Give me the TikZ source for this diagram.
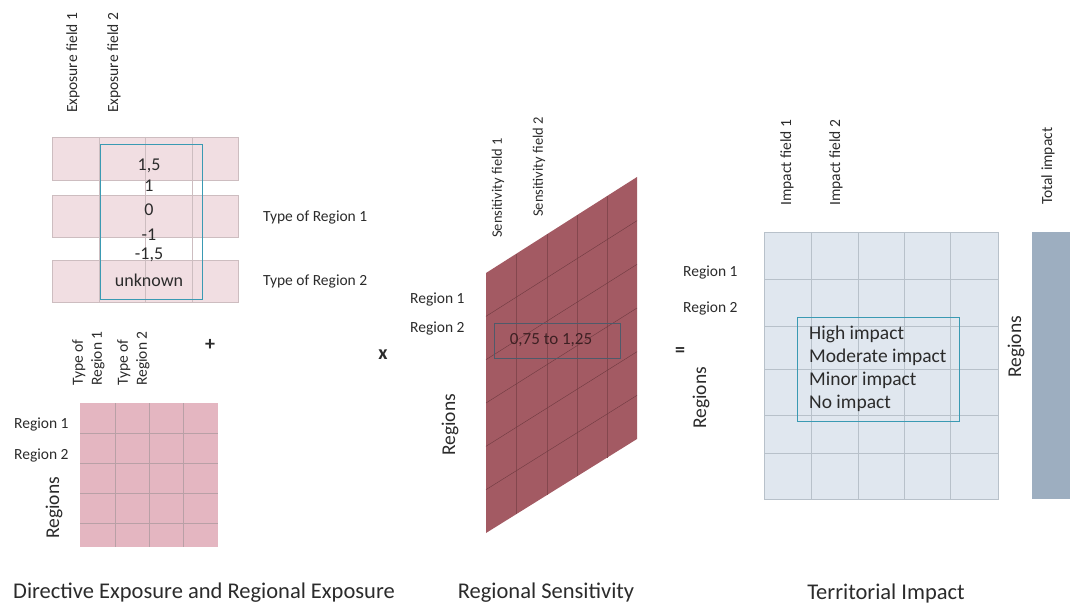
\documentclass[tikz,border=0pt]{standalone}
\usepackage{fontspec}
\setmainfont{Carlito}
\definecolor{pinklight}{HTML}{F1DEE2}
\definecolor{pinkgrid}{HTML}{CDBDC0}
\definecolor{pinkmid}{HTML}{E4B6C1}
\definecolor{pinkmidgrid}{HTML}{B9A0A6}
\definecolor{maroon}{HTML}{A35A63}
\definecolor{maroonline}{HTML}{6F3A40}
\definecolor{bluelight}{HTML}{E0E7EF}
\definecolor{bluegrid}{HTML}{B8C1CA}
\definecolor{barblue}{HTML}{9DAEC0}
\definecolor{boxteal}{HTML}{3A9AB3}
\definecolor{boxdark}{HTML}{4F5A6A}
\definecolor{txt}{HTML}{2B2B2B}
\begin{document}
\begin{tikzpicture}[x=1pt,y=-1pt,
  every node/.style={text=txt,inner sep=0pt},
  lbl/.style={font=\fontsize{15.5}{19}\selectfont},
  lblrot/.style={lbl,rotate=90,anchor=west},
  big/.style={font=\fontsize{19.5}{24}\selectfont},
  bigrot/.style={big,rotate=90},
  val/.style={font=\fontsize{18}{22}\selectfont},
  op/.style={font=\bfseries\fontsize{20}{24}\selectfont},
  title/.style={font=\fontsize{22.5}{27}\selectfont}]
\useasboundingbox (0,0) rectangle (1070,604);

% ---------- Directive exposure (top left) ----------
\foreach \a/\b in {137/180,195/237,260/302}
  \draw[pinkgrid,fill=pinklight] (52,\a) rectangle (238,\b);
\foreach \x in {99,145,192}
  \draw[pinkgrid] (\x,137) -- (\x,302);
\draw[boxteal,line width=1pt] (100,145) rectangle (202,299);
\node[val] (v1) at (149,166) {1,5};
\node[val] (v2) at (149,186) {1};
\node[val] (v3) at (149,210) {0};
\node[val] (v4) at (149,235) {-1};
\node[val] (v5) at (149,255) {-1,5};
\node[val] (v6) at (149,280) {unknown};
\node[lblrot] (ef1) at (73,113) {Exposure field 1};
\node[lblrot] (ef2) at (114,113) {Exposure field 2};
\node[lbl,anchor=west] (tr1) at (263,217) {Type of Region 1};
\node[lbl,anchor=west] (tr2) at (263,281) {Type of Region 2};

% ---------- Regional exposure (bottom left) ----------
\fill[pinkmid] (80,403) rectangle (218,547);
\foreach \x in {115,149,183}
  \draw[pinkmidgrid] (\x,403) -- (\x,547);
\foreach \y in {433,463,493,523}
  \draw[pinkmidgrid] (80,\y) -- (218,\y);
\node[lbl,rotate=90,anchor=west,align=left] (ct1) at (88.5,386) {Type of\\Region 1};
\node[lbl,rotate=90,anchor=west,align=left] (ct2) at (133.5,386) {Type of\\Region 2};
\node[lbl,anchor=west] (r1a) at (14,424) {Region 1};
\node[lbl,anchor=west] (r2a) at (14,455) {Region 2};
\node[bigrot] (rga) at (54,508) {Regions};
\node[op] (plus) at (210,345) {+};
\node[op] (times) at (383,355) {x};

% ---------- Regional sensitivity (parallelogram) ----------
\fill[maroon] (486,273) -- (637,177) -- (637,439) -- (486,533) -- cycle;
\foreach \x in {516,547,577,607}
  \draw[maroonline!60!maroon] (\x,{273-(\x-486)*96/151}) -- (\x,{533-(\x-486)*94/151});
\foreach \i in {1,...,5}
  \draw[maroonline] (486,{273+\i*43.33}) -- (637,{177+\i*43.67});
\draw[boxdark,line width=1pt] (494,323) rectangle (620,358);
\node[font=\fontsize{17}{20}\selectfont,text=maroonline!55!black] (rng) at (551,340) {0,75 to 1,25};
\node[lbl,rotate=90,anchor=west,font=\fontsize{14.5}{17}\selectfont] (sf1) at (498,238) {Sensitivity field 1};
\node[lbl,rotate=90,anchor=west,font=\fontsize{14.5}{17}\selectfont] (sf2) at (539,217) {Sensitivity field 2};
\node[lbl,anchor=west] (r1b) at (410,299) {Region 1};
\node[lbl,anchor=west] (r2b) at (410,328) {Region 2};
\node[bigrot] (rgb) at (450,425) {Regions};

% ---------- Territorial impact (right) ----------
\draw[bluegrid,fill=bluelight] (764,232) rectangle (998,499);
\foreach \x in {811,858,904,950}
  \draw[bluegrid] (\x,232) -- (\x,499);
\foreach \y in {279,326,369,415,453}
  \draw[bluegrid] (764,\y) -- (998,\y);
\draw[boxteal,line width=1pt] (797,317) rectangle (959,421);
\node[big,anchor=west] (hi) at (809,334) {High impact};
\node[big,anchor=west] (mo) at (809,357) {Moderate impact};
\node[big,anchor=west] (mi) at (809,380) {Minor impact};
\node[big,anchor=west] (no) at (809,403) {No impact};
\node[lblrot] (if1) at (787,206) {Impact field 1};
\node[lblrot] (if2) at (836,206) {Impact field 2};
\node[lblrot] (ti) at (1048,205) {Total impact};
\node[lbl,anchor=west] (r1c) at (683,272) {Region 1};
\node[lbl,anchor=west] (r2c) at (683,308) {Region 2};
\node[bigrot] (rgc) at (701,398) {Regions};
\node[bigrot] (rgd) at (1016,347) {Regions};
\node[op] (eq) at (680,352) {=};
\fill[barblue] (1032,232) rectangle (1070,499);

% ---------- titles ----------
\node[title] (t1) at (204,593) {Directive Exposure and Regional Exposure};
\node[title] (t2) at (546,593) {Regional Sensitivity};
\node[title] (t3) at (886,593) {Territorial Impact};
\end{tikzpicture}
\end{document}
